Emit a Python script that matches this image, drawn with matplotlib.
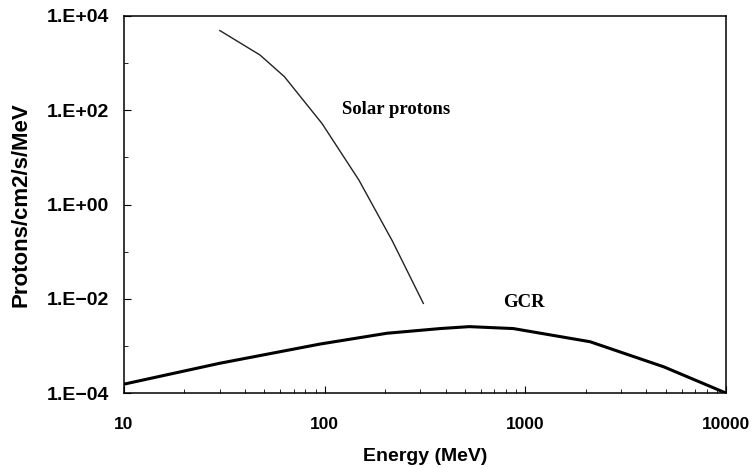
import numpy as np
import matplotlib
matplotlib.use('Agg')
import matplotlib.pyplot as plt
from matplotlib.ticker import FixedLocator, FuncFormatter, NullFormatter

# values
solarE = [30, 47.6, 63, 97, 148, 217, 310]
solarFlux = [4.9e3, 1.48e3, 513, 52, 3.3, 0.17, 8e-3]

gcrE = [10, 30, 95, 204, 376, 525, 870, 2100, 4900, 10000]
gcrFlux = [1.55e-4, 4.3e-4, 1.1e-3, 1.86e-3, 2.34e-3, 2.57e-3, 2.34e-3, 1.23e-3, 3.6e-4, 1.0e-4]

xTicks = [10, 100, 1000, 10000]
yTicks = [1e-4, 1e-2, 1e0, 1e2, 1e4]

plt.rcParams['font.family'] = ['Liberation Sans', 'DejaVu Sans']


def yfmt(v, p):
    s = '1.E%+03d' % round(np.log10(v))
    return s.replace('-', '\u2212')


fig = plt.figure(figsize=(7.54, 4.68), dpi=100)
ax = fig.add_axes([0.1645, 0.160, 0.7985, 0.806])

ax.plot(solarE, solarFlux, color='#222222', lw=1.0)
ax.plot(gcrE, gcrFlux, color='black', lw=2.2)

ax.set_xscale('log')
ax.set_yscale('log')
ax.set_xlim(10, 10000)
ax.set_ylim(1e-4, 1e4)

ax.xaxis.set_major_locator(FixedLocator(xTicks))
ax.xaxis.set_major_formatter(FuncFormatter(lambda v, p: '%d' % round(v)))
ax.xaxis.set_minor_formatter(NullFormatter())
ax.yaxis.set_major_locator(FixedLocator(yTicks))
ax.yaxis.set_major_formatter(FuncFormatter(yfmt))
ax.yaxis.set_minor_locator(FixedLocator([1e-3, 1e-1, 1e1, 1e3]))
ax.yaxis.set_minor_formatter(NullFormatter())

ax.tick_params(which='major', direction='in', length=5, width=0.8)
ax.tick_params(which='minor', direction='in', length=3, width=0.6)
ax.tick_params(axis='x', which='major', pad=17, labelsize=12.5)
ax.tick_params(axis='y', which='major', pad=11, labelsize=14)
ax.tick_params(axis='x', which='both', top=False)
ax.tick_params(axis='y', which='both', right=False)
for lab in ax.get_xticklabels() + ax.get_yticklabels():
    lab.set_fontweight('bold')
for s in ax.spines.values():
    s.set_linewidth(1.1)

ax.set_xlabel('Energy (MeV)', fontsize=14, fontweight='bold', labelpad=12)
ax.set_ylabel('Protons/cm2/s/MeV', fontsize=16, fontweight='bold')
ax.yaxis.set_label_coords(-0.153, 0.50)

ax.text(0.362, 0.751, 'Solar protons', transform=ax.transAxes, family='Liberation Serif',
        fontweight='bold', fontsize=13.5, ha='left', va='center')
ax.text(0.630, 0.239, 'GCR', transform=ax.transAxes, family='Liberation Serif',
        fontweight='bold', fontsize=13.5, ha='left', va='center')

fig.savefig('out.png', dpi=100)
